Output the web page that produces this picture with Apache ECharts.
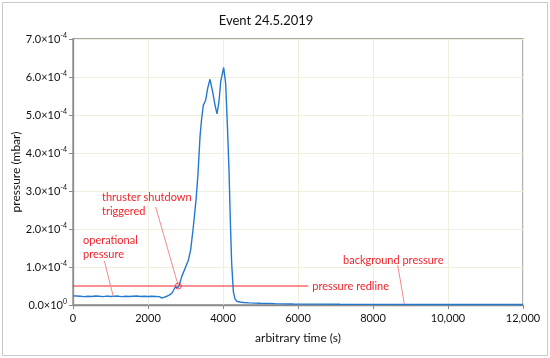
<!DOCTYPE html>
<html><head><meta charset="utf-8">
<script src="https://cdn.jsdelivr.net/npm/echarts@6/dist/echarts.min.js"></script>
<style>html,body{margin:0;padding:0;background:#fff}#c{width:550px;height:358px}</style>
</head><body><div id="c"></div>
<script>
// time (s)
const times = [0,100,200,300,400,500,600,700,800,900,1000,1100,1200,1300,1400,1500,1600,1700,1800,1900,2000,2100,2200,2300,2364,2420,2500,2587,2650,2720,2764,2800,2835,2898,2987,3076,3138,3209,3280,3330,3387,3430,3476,3538,3591,3653,3724,3787,3840,3893,3938,4018,4071,4115,4160,4196,4231,4276,4320,4364,4450,4542,4700,4987,5400,5875,6500,7120,8000,9000,10000,11000,12000];
// pressure (mbar)
const pressure = [2.4e-5,2.35e-5,2.3e-5,2.2e-5,2.3e-5,2.25e-5,2.35e-5,2.3e-5,2.2e-5,2.35e-5,2.25e-5,2.3e-5,2.35e-5,2.2e-5,2.3e-5,2.25e-5,2.3e-5,2.35e-5,2.25e-5,2.3e-5,2.25e-5,2.3e-5,2.25e-5,2.2e-5,1.85e-5,2.0e-5,2.3e-5,2.7e-5,3.3e-5,4.6e-5,4.3e-5,4.6e-5,5.3e-5,7.4e-5,9.6e-5,1.18e-4,1.45e-4,2.06e-4,2.76e-4,3.4e-4,4.43e-4,4.9e-4,5.26e-4,5.39e-4,5.7e-4,5.94e-4,5.61e-4,5.26e-4,5.03e-4,5.35e-4,5.88e-4,6.25e-4,5.83e-4,4.78e-4,3.55e-4,2.2e-4,1.1e-4,3.5e-5,1.6e-5,1.0e-5,8e-6,6.5e-6,5.5e-6,4.6e-6,3.6e-6,2.8e-6,2.3e-6,1.9e-6,1.7e-6,1.5e-6,1.4e-6,1.3e-6,1.2e-6];
// redline
const redlineValue = 5.0e-5;
const redlineTimes = [0, 6275];
// tick labels
const xTickLabels = {0:'0',2000:'2000',4000:'4000',6000:'6000',8000:'8000',10000:'10,000',12000:'12,000'};
const yTickMantissa = ['0.0','1.0','2.0','3.0','4.0','5.0','6.0','7.0'];
// annotations (data coords)
const annTexts = [
  {lines:['thruster shutdown','triggered'], at:[773, 2.84e-4], from:[2205, 2.58e-4], to:[2808, 5.0e-5], circle:true},
  {lines:['operational','pressure'], at:[267, 1.71e-4], from:[835, 1.16e-4], to:[1075, 2.2e-5]},
  {lines:['background pressure'], at:[7200, 1.18e-4], from:[8659, 1.05e-4], to:[8835, 0.3e-5]}
];

const FONT = 'Lato';
const RED = '#f4232b';
const chart = echarts.init(document.getElementById('c'));
chart.setOption({
  animation:false,
  title:{text:'Event 24.5.2019', left:261, top:9, textAlign:'center',
    textStyle:{fontFamily:FONT, fontSize:13, fontWeight:'normal', color:'#111'}},
  grid:{left:73, right:27, top:39, bottom:53, show:true, borderColor:'#8a8a8a', borderWidth:1.3, containLabel:false, outerBoundsMode:'none'},
  xAxis:{type:'value', min:0, max:12000, interval:2000,
    name:'arbitrary time (s)', nameLocation:'middle', nameGap:27, nameMoveOverlap:false,
    nameTextStyle:{fontFamily:FONT, fontSize:12, color:'#111'},
    axisLine:{lineStyle:{color:'#8a8a8a', width:1.3}},
    axisTick:{show:true, length:4, lineStyle:{color:'#8a8a8a'}},
    axisLabel:{fontFamily:FONT, fontSize:11, color:'#111', margin:8, formatter:v=>xTickLabels[v]},
    splitLine:{show:true, lineStyle:{color:'#efeedf', width:1}}},
  yAxis:{type:'value', min:0, max:7e-4, interval:1e-4,
    name:'pressure (mbar)', nameLocation:'middle', nameGap:51, nameMoveOverlap:false,
    nameTextStyle:{fontFamily:FONT, fontSize:12, color:'#111'},
    axisLine:{show:true, lineStyle:{color:'#8a8a8a', width:1.3}},
    axisTick:{show:true, length:4, lineStyle:{color:'#8a8a8a'}},
    axisLabel:{fontFamily:FONT, fontSize:11, color:'#111', margin:6,
      formatter:v=>{const n=Math.round(v/1e-4); return '{m|'+yTickMantissa[n]+'×10}{e|'+(n===0?'0':'-4')+'}';},
      rich:{m:{fontFamily:FONT, fontSize:11, color:'#111'}, e:{fontFamily:FONT, fontSize:7, color:'#111', padding:[0,0,7,0]}}},
    splitLine:{show:true, lineStyle:{color:'#efeedf', width:1}}},
  series:[
    {type:'line', data:times.map((t,i)=>[t,pressure[i]]), showSymbol:false, symbol:'none',
      lineStyle:{color:'#2479cf', width:1.4}, z:3},
    {type:'line', data:redlineTimes.map(t=>[t,redlineValue]), showSymbol:false, symbol:'none',
      lineStyle:{color:RED, width:1.2}, z:2,
      endLabel:{show:true, formatter:'pressure redline', fontFamily:FONT, fontSize:11, color:RED, distance:4}}
  ]
});

const g = [];
annTexts.forEach(a=>{
  const p = chart.convertToPixel({gridIndex:0}, a.at);
  const f = chart.convertToPixel({gridIndex:0}, a.from);
  const t = chart.convertToPixel({gridIndex:0}, a.to);
  a.lines.forEach((ln,i)=>{
    g.push({type:'text', x:p[0], y:p[1]+i*14, style:{text:ln, fontFamily:FONT, fontSize:11, fill:RED, textVerticalAlign:'middle'}, z:10});
  });
  g.push({type:'line', shape:{x1:f[0],y1:f[1],x2:t[0],y2:t[1]}, style:{stroke:'#f28a8a', lineWidth:1}, z:9});
  if (a.circle) g.push({type:'circle', shape:{cx:t[0], cy:t[1], r:3}, style:{stroke:RED, fill:'none', lineWidth:0.8}, z:9});
});
g.push({type:'rect', shape:{x:2.5,y:2.5,width:545,height:353}, style:{stroke:'#c8c8c8', fill:'none', lineWidth:1}, z:0});
chart.setOption({graphic:g});
</script></body></html>
